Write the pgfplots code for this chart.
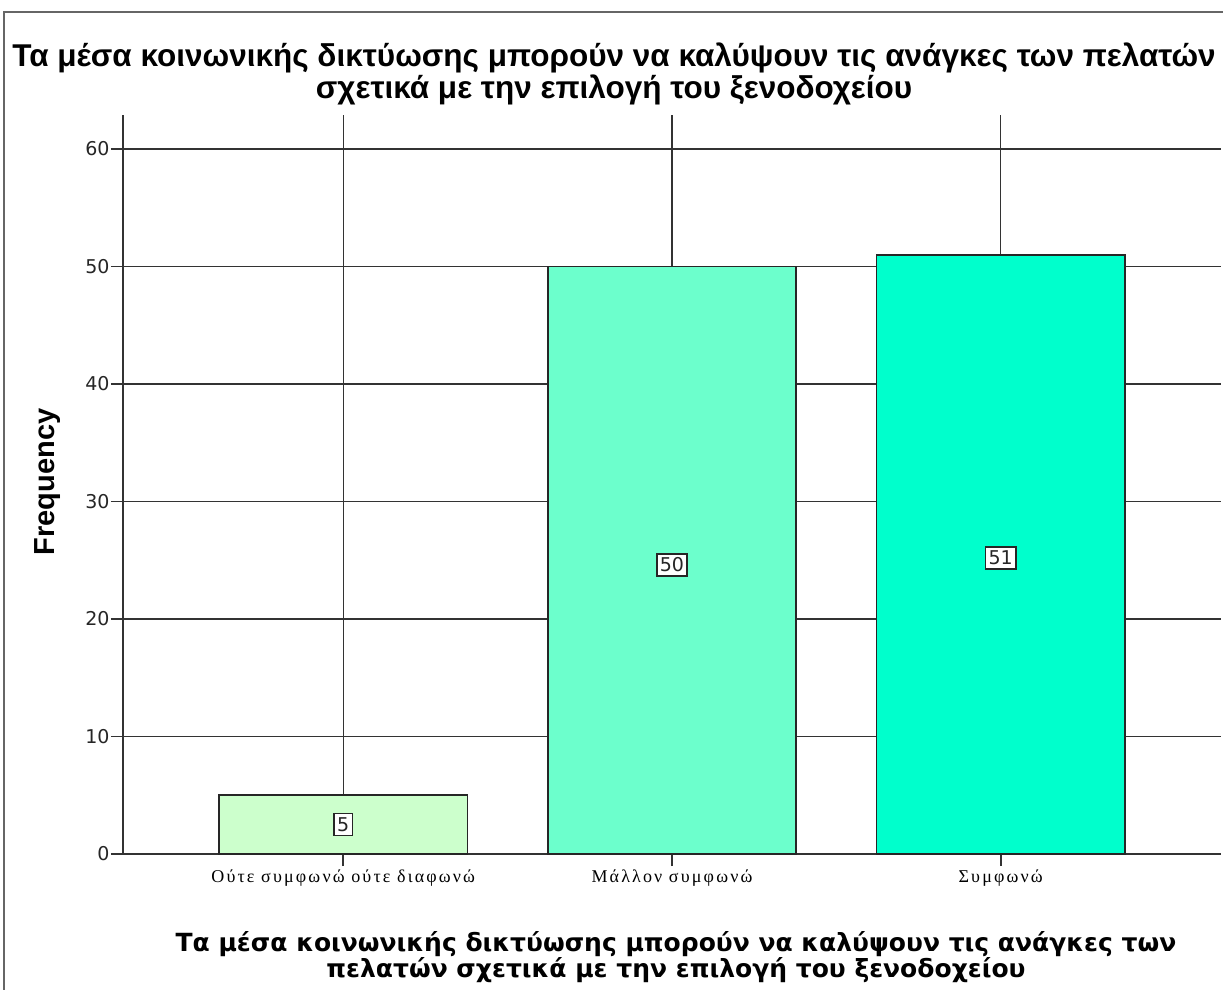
\documentclass[border=0pt]{standalone}
\usepackage{fontspec}
\setmainfont{Liberation Sans}
\newfontfamily\titlefont{Liberation Sans}
\newfontfamily\xlabfont{DejaVu Sans}
\newfontfamily\serifgr{Liberation Serif}[LetterSpace=12]
\newfontfamily\tickfont{DejaVu Sans}
\usepackage{pgfplots}
\pgfplotsset{compat=1.18}
\definecolor{cA}{HTML}{CCFFCC}
\definecolor{cB}{HTML}{6CFFCC}
\definecolor{cC}{HTML}{00FFCC}
\definecolor{gridc}{HTML}{333333}
\begin{document}
\begin{tikzpicture}[x=1pt,y=1pt]
% pixel (px,py) -> (px-123, 854-py)
\useasboundingbox (-123,-136) rectangle (1100,854);
\fill[white] (-123,-136) rectangle (1100,854);
\draw[gray!80!black, line width=1.5pt] (-119,-136) -- (-119,842) -- (1100,842);
\begin{axis}[
  at={(0,0)}, anchor=south west,
  scale only axis, width=1098pt, height=739pt,
  xmin=-0.67, xmax=2.67, ymin=0, ymax=62.9,
  axis x line*=bottom, axis y line*=left,
  axis line style={-, draw=gridc, line width=1.5pt},
  xtick={0,1,2},
  xticklabels={Ούτε συμφωνώ ούτε διαφωνώ, Μάλλον συμφωνώ, Συμφωνώ},
  ytick={0,10,20,30,40,50,60},
  tick align=outside, major tick length=12pt,
  tick style={draw=gridc, line width=1.6pt},
  ymajorgrids, xmajorgrids,
  major grid style={draw=gridc, line width=1.5pt},
  x tick label style={font=\serifgr\fontsize{18}{20}\selectfont, yshift=0pt},
  y tick label style={font=\tickfont\fontsize{19}{22}\selectfont, text=black!85, xshift=2pt},
  /pgf/number format/assume math mode=true,
  clip=false,
]
\addplot[ybar, bar width=0.755, bar shift=0, fill=cA, draw=black!85, line width=1.6pt] coordinates {(0,5)};
\addplot[ybar, bar width=0.755, bar shift=0, fill=cB, draw=black!85, line width=1.6pt] coordinates {(1,50)};
\addplot[ybar, bar width=0.755, bar shift=0, fill=cC, draw=black!85, line width=1.6pt] coordinates {(2,51)};
\addplot[draw=none, mark=none, nodes near coords, point meta=explicit symbolic,
  every node near coord/.style={anchor=center, draw=black!85, line width=1.5pt, fill=white,
    inner xsep=3pt, inner ysep=4pt, font=\tickfont\fontsize{19}{22}\selectfont, text=black!85}]
  coordinates {(0,2.5)[5] (1,24.6)[50] (2,25.2)[51]};
\end{axis}
\node[anchor=base, font=\titlefont\bfseries\fontsize{31.5}{36}\selectfont] at (491,787) {Τα μέσα κοινωνικής δικτύωσης μπορούν να καλύψουν τις ανάγκες των πελατών};
\node[anchor=base, font=\titlefont\bfseries\fontsize{31.5}{36}\selectfont] at (491,755) {σχετικά με την επιλογή του ξενοδοχείου};
\node[rotate=90, font=\titlefont\bfseries\fontsize{29}{34}\selectfont] at (-75,372) {Frequency};
\node[anchor=base, font=\xlabfont\bfseries\fontsize{25}{30}\selectfont] at (553,-97) {Τα μέσα κοινωνικής δικτύωσης μπορούν να καλύψουν τις ανάγκες των};
\node[anchor=base, font=\xlabfont\bfseries\fontsize{25}{30}\selectfont] at (553,-123) {πελατών σχετικά με την επιλογή του ξενοδοχείου};
\end{tikzpicture}
\end{document}
